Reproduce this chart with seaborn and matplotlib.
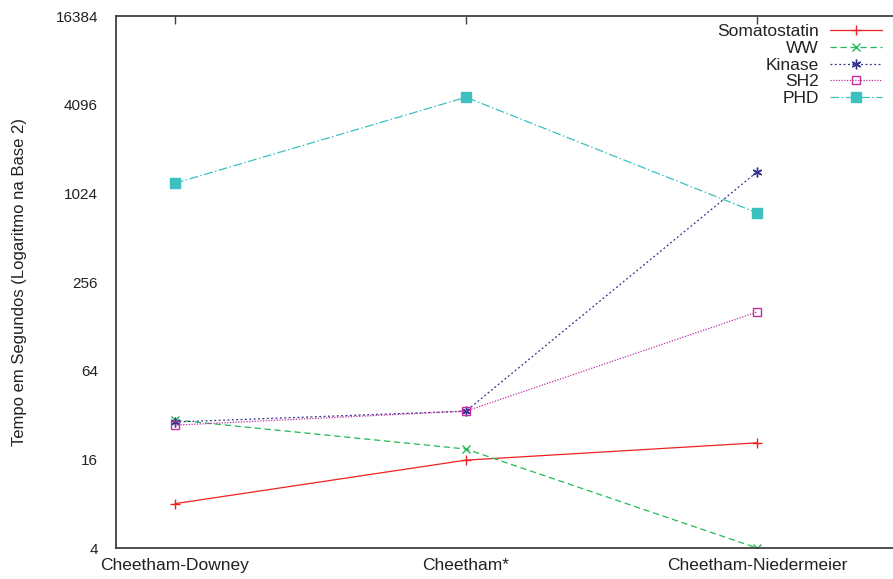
import seaborn as sns
import matplotlib.pyplot as plt
import matplotlib.ticker as mticker
import pandas as pd

metodos = ["Cheetham-Downey", "Cheetham*", "Cheetham-Niedermeier"]
somatostatin = [8, 15.8, 20.7]
ww = [29.6, 18.8, 4]
kinase = [28.7, 34, 1430]
sh2 = [27.3, 34, 160]
phd = [1200, 4600, 755]
series = ["Somatostatin", "WW", "Kinase", "SH2", "PHD"]
yticks = [4, 16, 64, 256, 1024, 4096, 16384]
yminor = [8, 32, 128, 512, 2048, 8192]

df = pd.DataFrame({
    "metodo": metodos * 5,
    "tempo": somatostatin + ww + kinase + sh2 + phd,
    "serie": [s for s in series for _ in metodos],
})

sns.set_style("white")
plt.rcParams["font.family"] = ["Liberation Sans", "DejaVu Sans"]

cores = {"Somatostatin": "#ee2222", "WW": "#22bb55", "Kinase": "#303090",
         "SH2": "#c030a0", "PHD": "#3cc0c0"}
marcas = {"Somatostatin": "+", "WW": "x", "Kinase": (6, 2, 0), "SH2": "s", "PHD": "s"}
tamanhos = {"Somatostatin": 7, "WW": 6, "Kinase": 7, "SH2": 6, "PHD": 6.5}
tracos = {"Somatostatin": "", "WW": (5, 3), "Kinase": (1.5, 2),
          "SH2": (1, 1.2), "PHD": (7, 2, 1.2, 2)}

fig = plt.figure(figsize=(8.93, 5.79), dpi=100)
ax = fig.add_axes([116 / 893, 31 / 579, 781 / 893, 532 / 579])

sns.lineplot(data=df, x="metodo", y="tempo", hue="serie", style="serie",
             hue_order=series, style_order=series, palette=cores,
             dashes=tracos, sort=False, linewidth=0.9, legend=False, ax=ax)

for linha, nome in zip(ax.lines, series):
    linha.set_label(nome)
    linha.set_marker(marcas[nome])
    linha.set_markeredgecolor(cores[nome])
    linha.set_markeredgewidth(1.0)
    linha.set_markersize(tamanhos[nome])
    if nome == "SH2":
        linha.set_markerfacecolor("none")
    elif nome == "PHD":
        linha.set_markerfacecolor(cores[nome])

ax.set_yscale("log", base=2)
ax.set_ylim(4, 16384)
ax.set_xlim(-0.2027, 2 + 140 / 291)
ax.yaxis.set_major_locator(mticker.FixedLocator(yticks))
ax.yaxis.set_minor_locator(mticker.FixedLocator(yminor))
ax.yaxis.set_major_formatter(mticker.FuncFormatter(lambda v, p: f"{int(round(v))}"))
ax.yaxis.set_minor_formatter(mticker.NullFormatter())

ax.tick_params(axis="both", which="both", direction="in", length=6, width=1,
               color="#404040", labelcolor="#222222", top=True, right=False)
ax.tick_params(axis="y", pad=13, labelsize=11)
ax.tick_params(axis="x", pad=7, labelsize=12.5)
for s in ax.spines.values():
    s.set_color("#404040")
    s.set_linewidth(1.3)

ax.set_xlabel("")
ax.set_ylabel("Tempo em Segundos (Logaritmo na Base 2)", fontsize=12, color="#222222")
ax.yaxis.set_label_coords(-89 / 781, 0.5)

leg = ax.legend(loc="upper right", bbox_to_anchor=(882 / 893, 1 - 24 / 579),
                bbox_transform=fig.transFigure, frameon=False, markerfirst=False,
                fontsize=12.5, handlelength=3.0, handletextpad=0.63,
                labelspacing=0.09, borderpad=0, borderaxespad=0)
for t in leg.get_texts():
    t.set_color("#222222")

fig.savefig("out.png", dpi=100)
